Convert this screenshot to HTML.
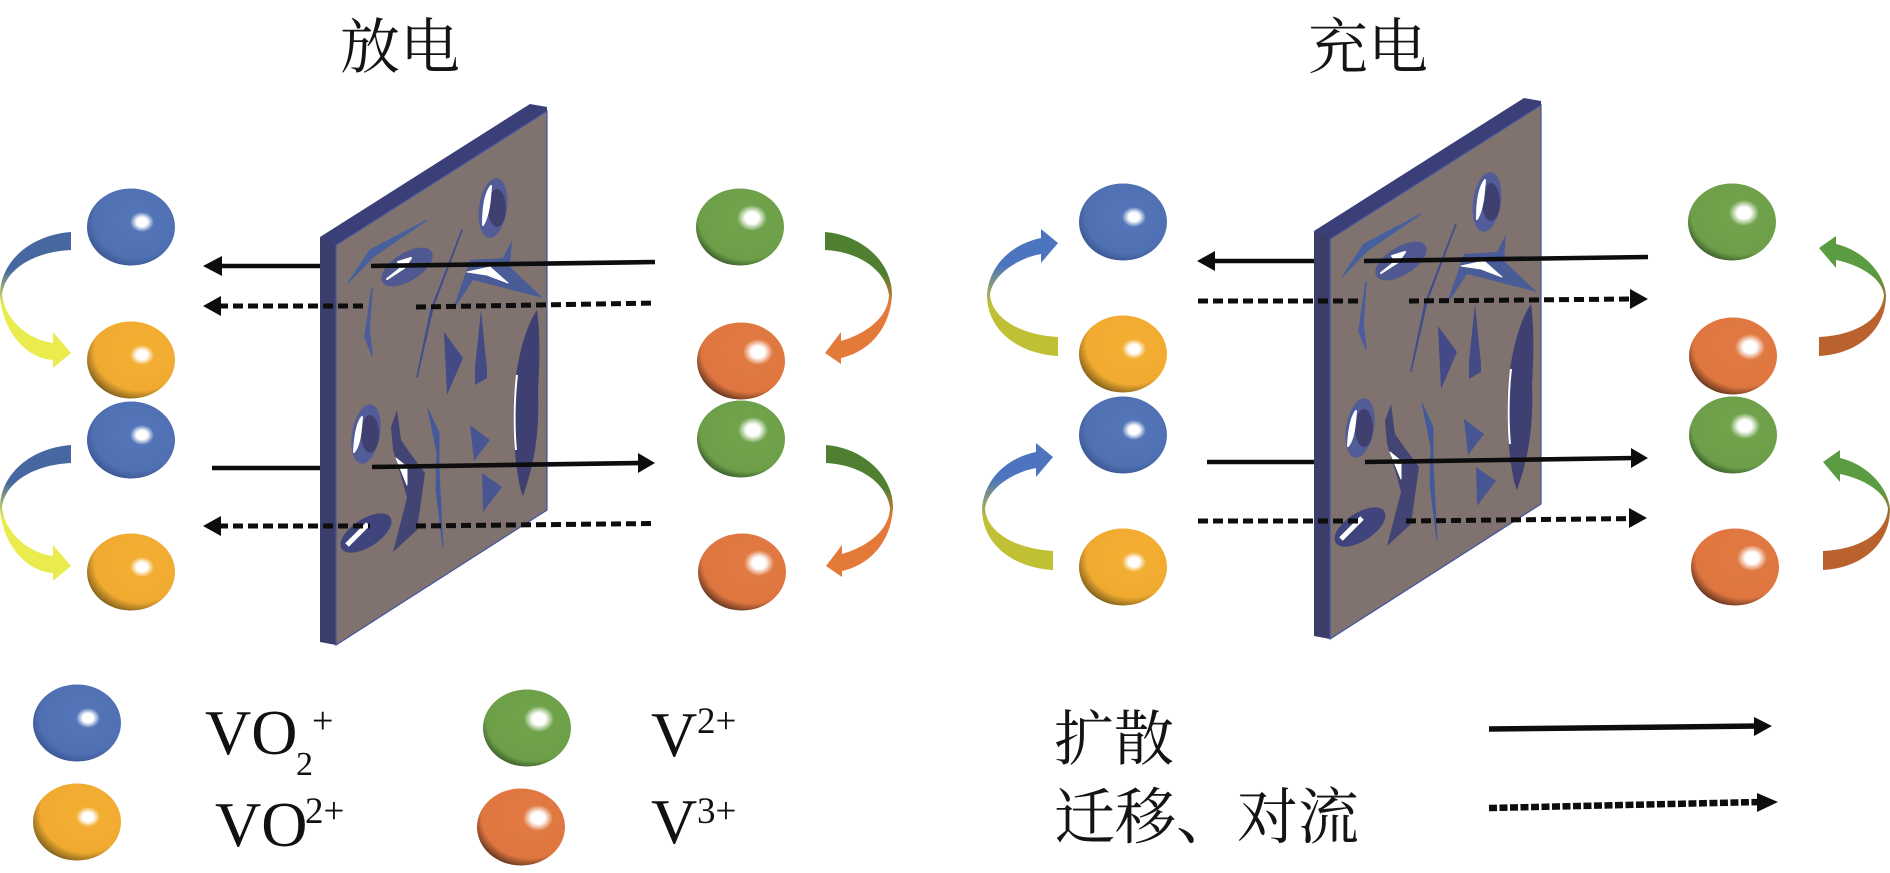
<!DOCTYPE html>
<html lang="zh"><head><meta charset="utf-8"><title>放电 充电</title>
<style>html,body{margin:0;padding:0;background:#fff}svg{display:block}
.cn{font-family:"Liberation Serif","Noto Serif CJK SC",serif;fill:#141414}
.la{font-family:"Liberation Serif",serif;fill:#111}</style></head><body>
<svg xmlns="http://www.w3.org/2000/svg" width="1890" height="873" viewBox="0 0 1890 873">
<defs>
<radialGradient id="gb" cx=".56" cy=".42" r=".62"><stop offset="0" stop-color="#5577bb"/><stop offset=".78" stop-color="#4f70b2"/><stop offset="1" stop-color="#3a5590"/></radialGradient>
<radialGradient id="ga" cx=".6" cy=".38" r=".68"><stop offset="0" stop-color="#f4b033"/><stop offset=".76" stop-color="#f0aa30"/><stop offset="1" stop-color="#705518"/></radialGradient>
<radialGradient id="gg" cx=".58" cy=".38" r=".68"><stop offset="0" stop-color="#72a44c"/><stop offset=".8" stop-color="#6d9f49"/><stop offset="1" stop-color="#2c4a24"/></radialGradient>
<radialGradient id="gr" cx=".6" cy=".36" r=".7"><stop offset="0" stop-color="#e27a42"/><stop offset=".78" stop-color="#df7640"/><stop offset="1" stop-color="#4c2818"/></radialGradient>
<radialGradient id="hl"><stop offset="0" stop-color="#fff"/><stop offset=".45" stop-color="#fff"/><stop offset="1" stop-color="#fff" stop-opacity="0"/></radialGradient>
<g id="sb"><ellipse rx="44" ry="38.5" fill="url(#gb)"/><ellipse cx="11" cy="-5" rx="12" ry="10" fill="url(#hl)"/></g>
<g id="sa"><ellipse rx="44" ry="38.5" fill="url(#ga)"/><ellipse cx="11" cy="-5" rx="12" ry="10" fill="url(#hl)"/></g>
<g id="sg"><ellipse rx="44" ry="38.5" fill="url(#gg)"/><ellipse cx="12" cy="-9" rx="15" ry="13" fill="url(#hl)"/></g>
<g id="sr"><ellipse rx="44" ry="38.5" fill="url(#gr)"/><ellipse cx="17" cy="-9" rx="15" ry="13" fill="url(#hl)"/></g>
<linearGradient id="c1" gradientUnits="userSpaceOnUse" x1="0" y1="270" x2="0" y2="305"><stop offset="0" stop-color="#46679f"/><stop offset="1" stop-color="#e9ec4c"/></linearGradient>
<linearGradient id="c2" gradientUnits="userSpaceOnUse" x1="0" y1="275" x2="0" y2="305"><stop offset="0" stop-color="#4f7f30"/><stop offset="1" stop-color="#e47a3a"/></linearGradient>
<linearGradient id="c3" gradientUnits="userSpaceOnUse" x1="0" y1="265" x2="0" y2="305"><stop offset="0" stop-color="#4c74bf"/><stop offset="1" stop-color="#bfc033"/></linearGradient>
<linearGradient id="c4" gradientUnits="userSpaceOnUse" x1="0" y1="275" x2="0" y2="310"><stop offset="0" stop-color="#5b9b42"/><stop offset="1" stop-color="#b9622e"/></linearGradient>
<g id="plate">
<polygon points="530,104 547,107 547,112 336,246 320,237" fill="#3a3f78"/>
<polygon points="320,237 336,245 336,645 320,642" fill="#3b3d6a"/>
<polygon points="336,245 547,111 547,510 336,645" fill="#80736f" stroke="#4254a0" stroke-width="1.2"/>
<g stroke-linejoin="round">
<ellipse cx="493" cy="208" rx="14" ry="30" transform="rotate(8 493 208)" fill="#525c98"/>
<ellipse cx="497" cy="208" rx="9" ry="19" fill="#3f4070"/>
<path d="M483,225 C483,205 486,192 491,186 C490,200 489,215 483,225Z" fill="#fff" stroke="#fff" stroke-width="2"/>
<polygon points="427,220 370,250 348,283 373,257" fill="#46609e" stroke="#46609e"/>
<ellipse cx="407" cy="267" rx="29" ry="14" transform="rotate(-32 407 267)" fill="#4f5890"/>
<path d="M387,279 L404,268 L411,258 L398,262 L402,267 Z" fill="#fff" stroke="#fff" stroke-width="2"/>
<polygon points="512,240 503,258 470,260 452,312 473,280 543,298 510,267" fill="#4a5c98"/>
<polygon points="467,272 490,267 508,283 487,275" fill="#fff" stroke="#fff"/>
<polygon points="462,230 433,307 417,377 431,310" fill="#3f4d90" stroke="#3f4d90" stroke-width="1.6"/>
<polygon points="372,288 365,337 372,355 369,330" fill="#4a5c9c" stroke="#4a5c9c" stroke-width="1.6"/>
<polygon points="444,332 463,358 447,395" fill="#434a86"/>
<polygon points="481,310 487,370 487,378 475,385 475,367" fill="#434a84"/>
<path d="M537,310 C520,335 510,390 514,440 C516,470 520,490 523,496 C532,470 540,440 538,390 C540,360 540,330 537,310Z" fill="#3f4072"/>
<path d="M517,375 C514,400 514,430 516,450" stroke="#fff" stroke-width="2" fill="none"/>
<ellipse cx="366" cy="434" rx="14" ry="30" transform="rotate(10 366 434)" fill="#525c98"/>
<ellipse cx="370" cy="434" rx="9" ry="19" fill="#3f4070"/>
<path d="M354,452 C355,433 358,422 362,417 C361,430 360,445 354,452Z" fill="#fff" stroke="#fff" stroke-width="2"/>
<polygon points="397,410 391,427 393,450 403,483 407,498 393,552 417,530 425,473 410,453 401,440" fill="#424474"/>
<polygon points="396,458 407,467 407,485" fill="#fff" stroke="#fff"/>
<polygon points="428,409 439,433 439,470 443,547 436,490 437,453" fill="#425a9a" stroke="#425a9a"/>
<polygon points="470,425 490,440 474,461" fill="#475692"/>
<polygon points="482,473 502,487 483,512" fill="#475692"/>
<ellipse cx="366" cy="533" rx="29" ry="14" transform="rotate(-33 366 533)" fill="#40447c"/>
<path d="M347,545 L368,524" stroke="#fff" stroke-width="5"/>
</g>
</g>
</defs>
<rect width="1890" height="873" fill="#fff"/>

<text class="cn" x="340" y="68" font-size="60">放电</text>
<text class="cn" x="1308" y="68" font-size="60">充电</text>

<use href="#plate"/>
<use href="#plate" transform="translate(994,-6)"/>

<!-- left spheres -->
<use href="#sb" x="131" y="227"/><use href="#sa" x="131" y="360"/><use href="#sb" x="131" y="440"/><use href="#sa" x="131" y="572"/>
<use href="#sg" x="740" y="227"/><use href="#sr" x="741" y="361"/><use href="#sg" x="741" y="439"/><use href="#sr" x="742" y="572"/>
<!-- right spheres -->
<use href="#sb" x="1123" y="222"/><use href="#sa" x="1123" y="354"/><use href="#sb" x="1123" y="435"/><use href="#sa" x="1123" y="567"/>
<use href="#sg" x="1732" y="222"/><use href="#sr" x="1733" y="356"/><use href="#sg" x="1733" y="435"/><use href="#sr" x="1735" y="567"/>

<!-- curved arrows -->
<path d="M71,232 C30,235 0,262 0,295 C2,330 25,358 53,360 L53,368 L71,353 L53,332 L53,343 C30,340 6,322 2,295 C4,272 30,252 71,250 Z" fill="url(#c1)"/>
<g transform="translate(0,213)"><path d="M71,232 C30,235 0,262 0,295 C2,330 25,358 53,360 L53,368 L71,353 L53,332 L53,343 C30,340 6,322 2,295 C4,272 30,252 71,250 Z" fill="url(#c1)"/></g>
<path d="M825,232 C862,235 892,262 892,295 C890,330 868,352 841,358 L841,364 L825,353 L841,332 L841,341 C862,335 888,320 889,295 C886,272 862,252 825,250 Z" fill="url(#c2)"/>
<g transform="translate(1,213)"><path d="M825,232 C862,235 892,262 892,295 C890,330 868,352 841,358 L841,364 L825,353 L841,332 L841,341 C862,335 888,320 889,295 C886,272 862,252 825,250 Z" fill="url(#c2)"/></g>
<path d="M1058,356 C1018,354 987,330 987,295 C989,265 1012,244 1041,238 L1041,229 L1058,243 L1041,263 L1041,254 C1018,258 992,275 990,295 C992,318 1020,335 1058,337 Z" fill="url(#c3)"/>
<g transform="translate(-5,214)"><path d="M1058,356 C1018,354 987,330 987,295 C989,265 1012,244 1041,238 L1041,229 L1058,243 L1041,263 L1041,254 C1018,258 992,275 990,295 C992,318 1020,335 1058,337 Z" fill="url(#c3)"/></g>
<path d="M1819,356 C1858,354 1886,330 1886,295 C1884,272 1862,250 1836,244 L1836,236 L1819,248 L1836,268 L1836,260 C1860,265 1882,278 1884,295 C1882,318 1858,335 1819,337 Z" fill="url(#c4)"/>
<g transform="translate(4,214)"><path d="M1819,356 C1858,354 1886,330 1886,295 C1884,272 1862,250 1836,244 L1836,236 L1819,248 L1836,268 L1836,260 C1860,265 1882,278 1884,295 C1882,318 1858,335 1819,337 Z" fill="url(#c4)"/></g>

<!-- straight arrows -->
<g fill="#0d0d0d" stroke="none">
<polygon points="203,266 222,256 222,276"/><polygon points="203,306 221,296 221,316"/>
<polygon points="655,463 638,453 638,473"/><polygon points="203,526 221,516 221,536"/>
<polygon points="1197,261 1215,251 1215,271"/><polygon points="1648,299 1630,289 1630,309"/>
<polygon points="1648,458 1631,448 1631,468"/><polygon points="1647,518 1629,508 1629,528"/>
<polygon points="1772,726 1754,717 1754,736"/><polygon points="1778,802 1757,793 1757,812"/>
</g>
<g stroke="#0d0d0d" stroke-width="4.6" fill="none">
<path d="M215,266H320M371,266L655,262M212,468H320M372,467L642,463"/>
<path d="M1210,261H1314M1364,261L1648,257M1207,462H1314M1365,462L1635,458"/>
<path d="M1489,729L1760,726" stroke-width="5.5"/>
</g>
<g stroke="#0d0d0d" stroke-width="5" fill="none" stroke-dasharray="10 5">
<path d="M218,306H367M416,307L655,303M218,526H370M416,526L655,523.5"/>
<path d="M1198,301H1362M1409,301L1635,299M1198,521H1360M1406,521L1635,518.5"/>
<path d="M1489,808L1760,802" stroke-width="6.5" stroke-dasharray="8 2.5"/>
</g>

<!-- legend -->
<use href="#sb" x="77" y="723"/><use href="#sa" x="77" y="822"/><use href="#sg" x="527" y="728"/><use href="#sr" x="521" y="827"/>
<text class="la" x="205" y="754" font-size="64">VO</text>
<text class="la" x="296" y="775" font-size="34">2</text>
<text class="la" x="312" y="733" font-size="38">+</text>
<text class="la" x="215" y="846" font-size="64">VO</text>
<text class="la" x="305" y="823" font-size="37">2+</text>
<text class="la" x="651" y="756" font-size="64">V</text>
<text class="la" x="697" y="733" font-size="37">2+</text>
<text class="la" x="651" y="843" font-size="64">V</text>
<text class="la" x="697" y="823" font-size="37">3+</text>
<text class="cn" x="1054" y="760" font-size="60">扩散</text>
<text class="cn" x="1054" y="838" font-size="61">迁移、对流</text>
</svg>
</body></html>
